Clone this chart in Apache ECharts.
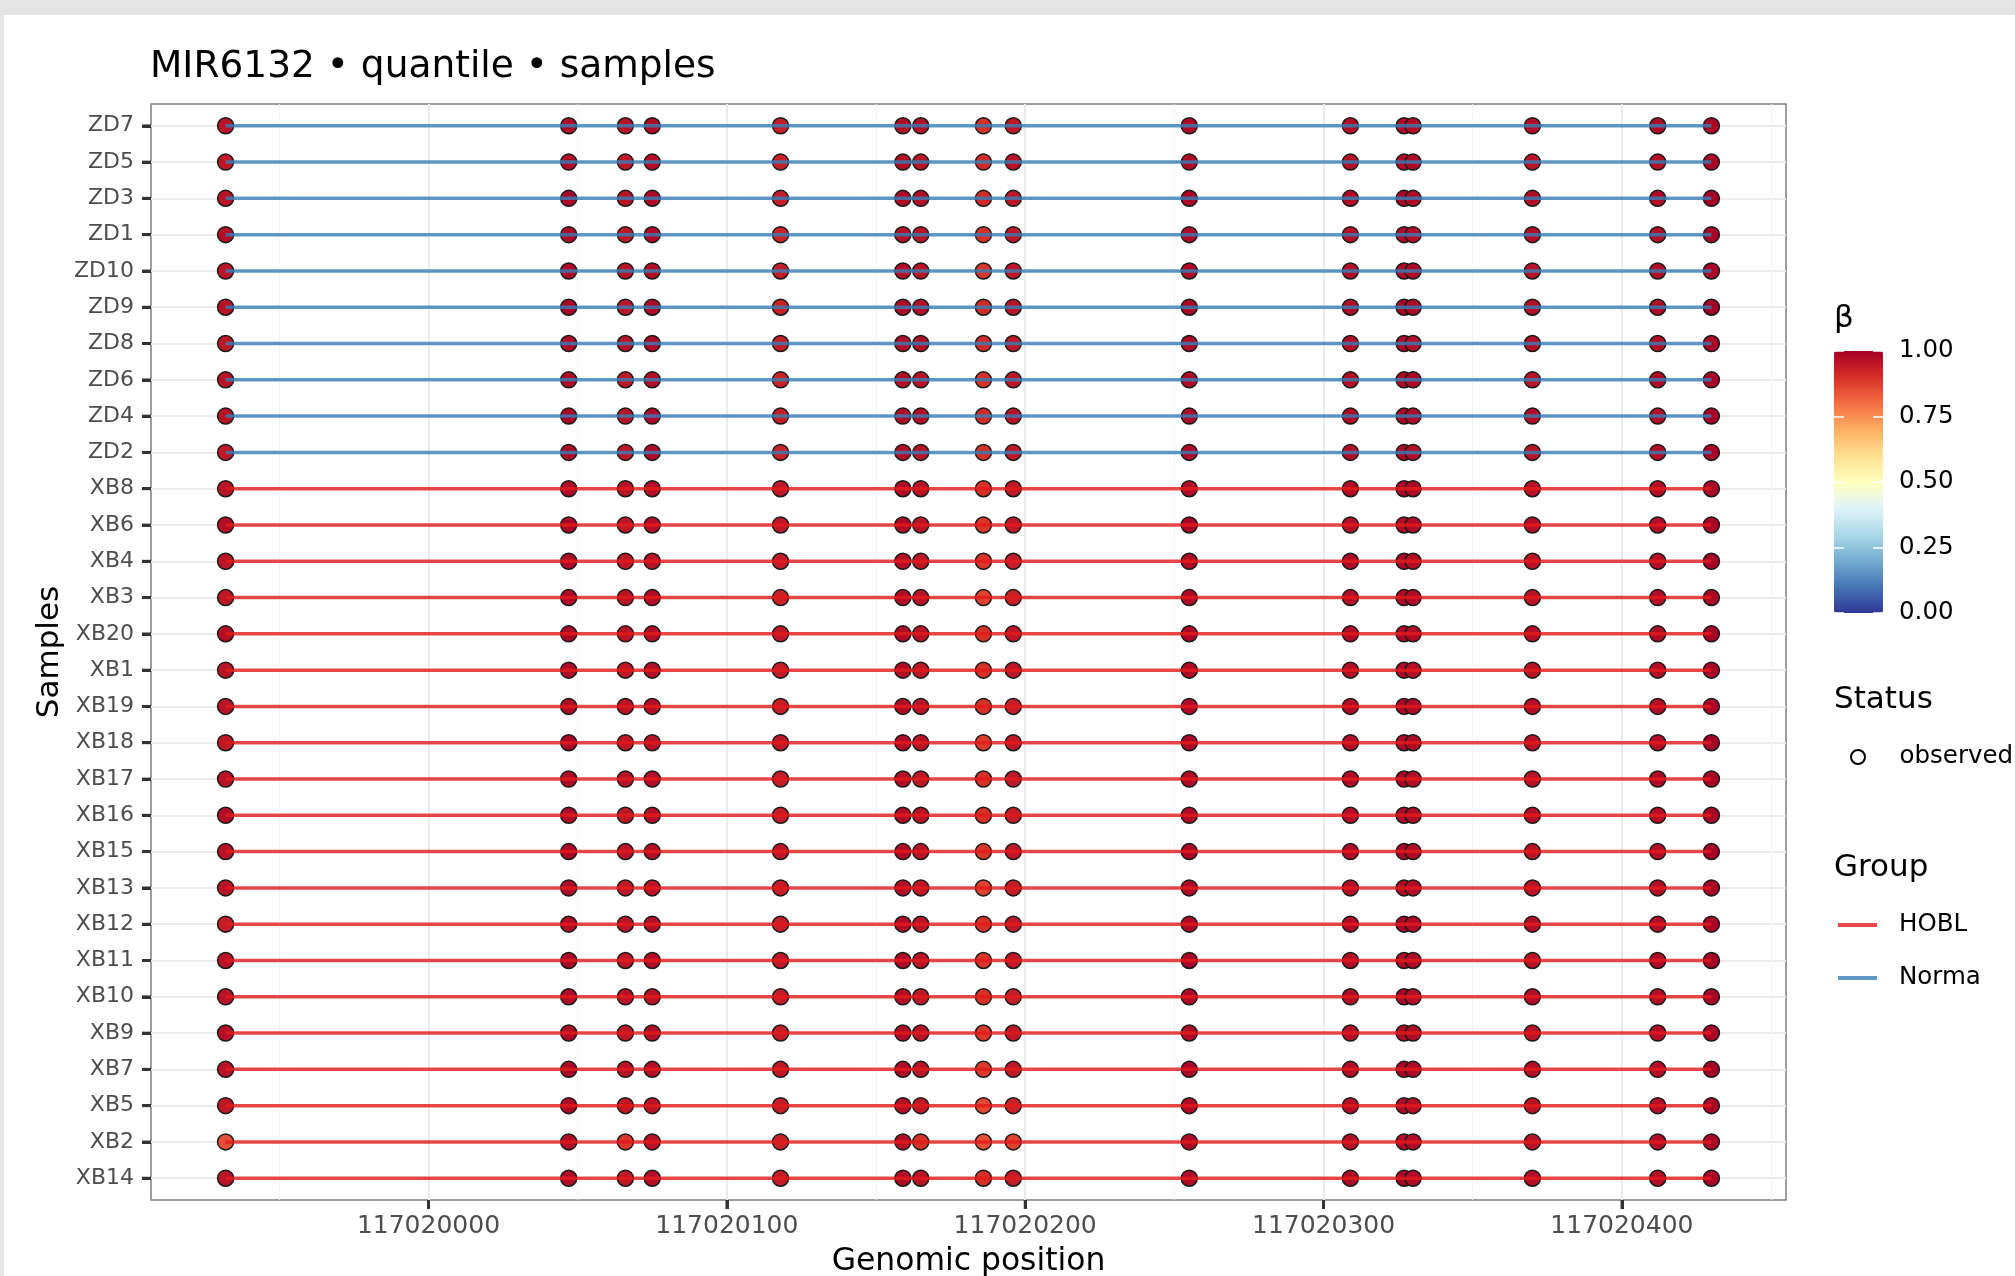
<!DOCTYPE html>
<html>
<head>
<meta charset="utf-8">
<title>MIR6132 • quantile • samples</title>
<script src="https://cdn.jsdelivr.net/npm/echarts@6/dist/echarts.min.js"></script>
<style>
html, body { margin: 0; padding: 0; background: #e5e5e5; overflow: hidden; }
#paper { position: absolute; left: 4px; top: 15px; width: 2011px; height: 1261px; background: #fff; }
#chart { position: absolute; left: 0; top: 0; width: 2015px; height: 1276px; }
</style>
</head>
<body>
<div id="paper"></div>
<div id="chart"></div>
<script>
// 样本（从上到下）
const samples = ['ZD7', 'ZD5', 'ZD3', 'ZD1', 'ZD10', 'ZD9', 'ZD8', 'ZD6', 'ZD4', 'ZD2',
    'XB8', 'XB6', 'XB4', 'XB3', 'XB20', 'XB1', 'XB19', 'XB18', 'XB17', 'XB16',
    'XB15', 'XB13', 'XB12', 'XB11', 'XB10', 'XB9', 'XB7', 'XB5', 'XB2', 'XB14'];

// CpG 位置
const positions = [117019932, 117020047, 117020066, 117020075, 117020118, 117020159,
    117020165, 117020186, 117020196, 117020255, 117020309, 117020327, 117020330,
    117020370, 117020412, 117020430];

// 坐标范围和刻度
const xRange = [117019907, 117020455];
const xTicks = [117020000, 117020100, 117020200, 117020300, 117020400];
const xTickRange = [117020000, 117020400];      // 主刻度 每 100
const xMinorRange = [117019950, 117020450];     // 次网格 每 100
const betaTicks = [0, 0.25, 0.5, 0.75, 1];

// β 值，每行对应 samples 中的一个样本，每列对应 positions
const betaRows = [
    [0.96, 0.98, 0.96, 0.98, 0.94, 0.97, 0.97, 0.90, 0.95, 0.98, 0.97, 0.98, 0.97, 0.97, 0.98, 0.99], // ZD7
    [0.95, 0.98, 0.95, 0.97, 0.93, 0.97, 0.96, 0.91, 0.96, 0.98, 0.97, 0.98, 0.98, 0.96, 0.97, 0.99], // ZD5
    [0.96, 0.99, 0.96, 0.98, 0.94, 0.98, 0.97, 0.91, 0.95, 0.99, 0.98, 0.99, 0.98, 0.97, 0.98, 1.00], // ZD3
    [0.97, 0.98, 0.95, 0.98, 0.93, 0.97, 0.96, 0.90, 0.95, 0.98, 0.97, 0.98, 0.97, 0.97, 0.97, 0.99], // ZD1
    [0.96, 0.98, 0.96, 0.97, 0.94, 0.97, 0.96, 0.89, 0.95, 0.98, 0.97, 0.98, 0.98, 0.96, 0.97, 0.99], // ZD10
    [0.96, 0.99, 0.95, 0.98, 0.93, 0.98, 0.97, 0.91, 0.96, 0.99, 0.98, 0.99, 0.98, 0.97, 0.98, 1.00], // ZD9
    [0.95, 0.98, 0.96, 0.98, 0.94, 0.97, 0.97, 0.91, 0.95, 0.98, 0.97, 0.98, 0.97, 0.97, 0.97, 0.99], // ZD8
    [0.96, 0.98, 0.95, 0.97, 0.93, 0.97, 0.96, 0.90, 0.95, 0.98, 0.97, 0.98, 0.98, 0.96, 0.98, 0.99], // ZD6
    [0.96, 0.99, 0.96, 0.98, 0.94, 0.98, 0.97, 0.91, 0.96, 0.98, 0.98, 0.99, 0.98, 0.97, 0.97, 1.00], // ZD4
    [0.95, 0.98, 0.95, 0.98, 0.93, 0.97, 0.96, 0.90, 0.95, 0.98, 0.97, 0.98, 0.97, 0.96, 0.97, 0.99], // ZD2
    [0.96, 0.98, 0.96, 0.97, 0.95, 0.98, 0.96, 0.90, 0.95, 0.98, 0.98, 0.99, 0.98, 0.96, 0.97, 0.99], // XB8
    [0.97, 0.99, 0.95, 0.97, 0.95, 0.98, 0.96, 0.89, 0.95, 0.99, 0.97, 0.98, 0.98, 0.97, 0.97, 0.99], // XB6
    [0.96, 0.98, 0.95, 0.96, 0.94, 0.97, 0.95, 0.89, 0.94, 0.98, 0.98, 0.99, 0.97, 0.96, 0.97, 1.00], // XB4
    [0.95, 0.98, 0.96, 0.97, 0.93, 0.98, 0.96, 0.87, 0.93, 0.98, 0.97, 0.98, 0.98, 0.96, 0.97, 0.99], // XB3
    [0.97, 0.99, 0.96, 0.97, 0.95, 0.98, 0.96, 0.90, 0.95, 0.99, 0.98, 0.99, 0.98, 0.97, 0.98, 1.00], // XB20
    [0.96, 0.98, 0.95, 0.97, 0.94, 0.97, 0.95, 0.90, 0.95, 0.98, 0.97, 0.98, 0.97, 0.96, 0.97, 0.99], // XB1
    [0.96, 0.98, 0.96, 0.97, 0.94, 0.98, 0.96, 0.90, 0.94, 0.98, 0.98, 0.99, 0.98, 0.97, 0.97, 0.99], // XB19
    [0.95, 0.99, 0.95, 0.96, 0.95, 0.98, 0.96, 0.88, 0.95, 0.99, 0.97, 0.98, 0.98, 0.96, 0.97, 1.00], // XB18
    [0.96, 0.98, 0.96, 0.97, 0.94, 0.97, 0.95, 0.90, 0.95, 0.98, 0.98, 0.99, 0.97, 0.96, 0.98, 0.99], // XB17
    [0.97, 0.98, 0.95, 0.97, 0.94, 0.98, 0.96, 0.90, 0.94, 0.98, 0.97, 0.98, 0.98, 0.97, 0.97, 0.99], // XB16
    [0.96, 0.99, 0.96, 0.97, 0.95, 0.98, 0.96, 0.89, 0.95, 0.99, 0.98, 0.99, 0.98, 0.96, 0.97, 1.00], // XB15
    [0.96, 0.98, 0.95, 0.96, 0.94, 0.97, 0.95, 0.87, 0.94, 0.98, 0.97, 0.98, 0.97, 0.96, 0.97, 0.99], // XB13
    [0.94, 0.98, 0.96, 0.97, 0.94, 0.98, 0.96, 0.90, 0.95, 0.98, 0.98, 0.99, 0.98, 0.97, 0.97, 0.99], // XB12
    [0.96, 0.99, 0.95, 0.97, 0.95, 0.98, 0.96, 0.89, 0.95, 0.99, 0.97, 0.98, 0.98, 0.96, 0.98, 1.00], // XB11
    [0.96, 0.98, 0.96, 0.96, 0.94, 0.97, 0.95, 0.90, 0.94, 0.98, 0.98, 0.99, 0.97, 0.97, 0.97, 0.99], // XB10
    [0.97, 0.98, 0.95, 0.97, 0.94, 0.98, 0.96, 0.89, 0.95, 0.98, 0.97, 0.98, 0.98, 0.96, 0.97, 0.99], // XB9
    [0.96, 0.99, 0.96, 0.97, 0.95, 0.98, 0.96, 0.88, 0.95, 0.99, 0.98, 0.99, 0.98, 0.97, 0.97, 1.00], // XB7
    [0.95, 0.98, 0.95, 0.96, 0.94, 0.97, 0.95, 0.86, 0.93, 0.98, 0.97, 0.98, 0.97, 0.96, 0.97, 0.99], // XB5
    [0.85, 0.98, 0.89, 0.96, 0.93, 0.97, 0.90, 0.85, 0.87, 0.98, 0.97, 0.98, 0.98, 0.96, 0.97, 0.99], // XB2
    [0.96, 0.98, 0.95, 0.97, 0.94, 0.98, 0.96, 0.90, 0.94, 0.98, 0.98, 0.99, 0.98, 0.97, 0.97, 0.99]  // XB14
];

window.onload = function () {
    const font = 'DejaVu Sans';
    // RdYlBu 反向
    const rdylbu = ['#313695', '#4575b4', '#74add1', '#abd9e9', '#e0f3f8', '#ffffbf',
        '#fee090', '#fdae61', '#f46d43', '#d73027', '#a50026'];
    const groupColor = { HOBL: 'rgba(228,26,28,0.8)', Norma: 'rgba(55,126,184,0.8)' };
    const tickColor = '#333';
    const tickLen = 9;
    const tickW = 3;
    const gridLine = { color: '#ebebeb', width: 2 };

    // 面板
    const P = { left: 151, top: 104, width: 1635, height: 1096 };
    const yPad = 0.6;                       // 离散轴两端留白
    const yRange = [-yPad, samples.length - 1 + yPad];
    const band = P.height / (yRange[1] - yRange[0]);
    const pxPerBp = P.width / (xRange[1] - xRange[0]);
    const xAt = v => P.left + (v - xRange[0]) * pxPerBp;

    // 散点
    let points = [];
    samples.forEach((s, i) => {
        positions.forEach((p, j) => {
            points.push([p, i, betaRows[i][j]]);
        });
    });

    let series = [{
        name: 'observed',
        type: 'scatter',
        xAxisIndex: 0,
        yAxisIndex: 0,
        symbolSize: 16,
        itemStyle: { borderColor: '#1a1a1a', borderWidth: 1.5, opacity: 1 },
        z: 2,
        data: points
    }];

    // 每个样本一条线
    samples.forEach((s, i) => {
        let g = s.indexOf('ZD') === 0 ? 'Norma' : 'HOBL';
        series.push({
            name: g,
            type: 'line',
            xAxisIndex: 0,
            yAxisIndex: 0,
            symbol: 'none',
            showSymbol: false,
            color: groupColor[g],
            lineStyle: { color: groupColor[g], width: 3.5 },
            z: 3,
            data: positions.map(p => [p, i])
        });
    });

    // 刻度线（贴在面板外侧）
    series.push({
        name: 'yTicks', type: 'scatter', xAxisIndex: 0, yAxisIndex: 0,
        symbol: 'rect', symbolSize: [tickLen, tickW], symbolOffset: [-tickLen / 2, 0],
        clip: false, silent: true, z: 5,
        itemStyle: { color: tickColor },
        data: samples.map((s, i) => [xRange[0], i])
    });
    series.push({
        name: 'xTicks', type: 'scatter', xAxisIndex: 0, yAxisIndex: 0,
        symbol: 'rect', symbolSize: [tickW, tickLen], symbolOffset: [0, tickLen / 2],
        clip: false, silent: true, z: 5,
        itemStyle: { color: tickColor },
        data: xTicks.map(v => [v, yRange[1]])
    });

    const hiddenAxis = (gi, min, max) => ({
        type: 'value', gridIndex: gi, min: min, max: max, show: false,
        axisLine: { show: false, onZero: false }, splitLine: { show: false }
    });

    let chart = echarts.init(document.getElementById('chart'));

    let option = {
        animation: false,
        textStyle: { fontFamily: font },
        title: [
            {
                text: 'MIR6132 • quantile • samples',
                left: 150, top: 45, padding: 0,
                textStyle: { fontFamily: font, fontSize: 37.5, fontWeight: 'normal', color: '#000', lineHeight: 44 }
            },
            {
                text: 'β', left: 1834, top: 301, padding: 0,
                textStyle: { fontFamily: font, fontSize: 31, fontWeight: 'normal', color: '#000', lineHeight: 36 }
            },
            {
                text: 'Status', left: 1834, top: 682, padding: 0,
                textStyle: { fontFamily: font, fontSize: 31, fontWeight: 'normal', color: '#000', lineHeight: 36 }
            },
            {
                text: 'Group', left: 1834, top: 850, padding: 0,
                textStyle: { fontFamily: font, fontSize: 31, fontWeight: 'normal', color: '#000', lineHeight: 36 }
            }
        ],
        legend: [
            {
                data: [{ name: 'observed', icon: 'circle', itemStyle: { color: '#fff', borderColor: '#000', borderWidth: 2 } }],
                orient: 'vertical', left: 1850, top: 742, padding: 0,
                itemWidth: 39, itemHeight: 14, selectedMode: false,
                textStyle: { fontFamily: font, fontSize: 24.5, color: '#000', lineHeight: 30, padding: [0, 0, 0, 17] }
            },
            {
                data: [
                    { name: 'HOBL', icon: 'rect', itemStyle: { color: groupColor.HOBL } },
                    { name: 'Norma', icon: 'rect', itemStyle: { color: groupColor.Norma } }
                ],
                orient: 'vertical', left: 1838, top: 910, padding: 0,
                itemWidth: 39, itemHeight: 4, itemGap: 23, selectedMode: false,
                textStyle: { fontFamily: font, fontSize: 24.5, color: '#000', lineHeight: 30, padding: [0, 0, 0, 17] }
            }
        ],
        visualMap: {
            type: 'continuous',
            seriesIndex: 0,
            dimension: 2,
            min: 0, max: 1,
            calculable: false,
            inRange: { color: rdylbu },
            left: 1834, top: 351, padding: 0,
            itemWidth: 49, itemHeight: 262,
            z: 2
        },
        grid: [
            {   // 0 主图（数据 + 边框）
                left: P.left, top: P.top, width: P.width, height: P.height,
                outerBoundsMode: 'none', containLabel: false,
                show: true, borderColor: '#7f7f7f', borderWidth: 1.5, backgroundColor: 'transparent'
            },
            {   // 1 色条刻度
                left: 1834, top: 351, width: 49, height: 262,
                outerBoundsMode: 'none', containLabel: false
            },
            {   // 2 样本标签、横向网格线
                left: P.left, width: P.width,
                top: P.top + yPad * band, height: (samples.length - 1) * band,
                outerBoundsMode: 'none', containLabel: false
            },
            {   // 3 位置标签、纵向网格线
                left: xAt(xTickRange[0]), width: xAt(xTickRange[1]) - xAt(xTickRange[0]),
                top: P.top, height: P.height,
                outerBoundsMode: 'none', containLabel: false
            },
            {   // 4 次网格线
                left: xAt(xMinorRange[0]), width: xAt(xMinorRange[1]) - xAt(xMinorRange[0]),
                top: P.top, height: P.height,
                outerBoundsMode: 'none', containLabel: false
            }
        ],
        xAxis: [
            {   // 0
                type: 'value', gridIndex: 0,
                min: xRange[0], max: xRange[1],
                name: 'Genomic position', nameLocation: 'middle', nameGap: 44,
                nameTextStyle: { fontFamily: font, fontSize: 31.4, color: '#000', lineHeight: 36 },
                axisLine: { show: false, onZero: false },
                axisTick: { show: false },
                axisLabel: { show: false },
                splitLine: { show: false }
            },
            hiddenAxis(1, 0, 1),          // 1
            hiddenAxis(2, 0, 1),          // 2
            {   // 3
                type: 'value', gridIndex: 3,
                min: xTickRange[0], max: xTickRange[1], interval: 100,
                axisLine: { show: false, onZero: false },
                axisTick: { show: true, length: tickLen, lineStyle: { color: tickColor, width: tickW } },
                axisLabel: {
                    margin: 11, fontFamily: font, fontSize: 25, color: '#4d4d4d', lineHeight: 30,
                    formatter: v => String(v)
                },
                splitLine: { show: true, lineStyle: gridLine }
            },
            {   // 4
                type: 'value', gridIndex: 4,
                min: xMinorRange[0], max: xMinorRange[1], interval: 100,
                axisLine: { show: false, onZero: false },
                axisTick: { show: false },
                axisLabel: { show: false },
                splitLine: { show: true, lineStyle: { color: '#f2f2f2', width: 1 } }
            }
        ],
        yAxis: [
            {   // 0
                type: 'value', gridIndex: 0,
                min: yRange[0], max: yRange[1], inverse: true,
                name: 'Samples', nameLocation: 'middle', nameGap: 86,
                nameTextStyle: { fontFamily: font, fontSize: 31, color: '#000' },
                axisLine: { show: false, onZero: false },
                axisTick: { show: false },
                axisLabel: { show: false },
                splitLine: { show: false }
            },
            {   // 1 色条右侧刻度和标签
                type: 'value', gridIndex: 1, position: 'right',
                min: 0, max: 1, interval: 0.25, z: 10,
                axisLine: { show: false, onZero: false },
                axisTick: { show: true, inside: true, length: 10, lineStyle: { color: '#fff', width: 1.5 } },
                axisLabel: {
                    margin: 16, fontFamily: font, fontSize: 24.5, color: '#000',
                    formatter: v => v.toFixed(2)
                },
                splitLine: { show: false }
            },
            {   // 2 色条左侧刻度
                type: 'value', gridIndex: 1, position: 'left',
                min: 0, max: 1, interval: 0.25, z: 10,
                axisLine: { show: false, onZero: false },
                axisTick: { show: true, inside: true, length: 10, lineStyle: { color: '#fff', width: 1.5 } },
                axisLabel: { show: false },
                splitLine: { show: false }
            },
            {   // 3 样本
                type: 'value', gridIndex: 2,
                min: 0, max: samples.length - 1, interval: 1, inverse: true,
                axisLine: { show: false, onZero: false },
                axisTick: { show: true, length: tickLen, lineStyle: { color: tickColor, width: tickW } },
                axisLabel: {
                    margin: 17, fontFamily: font, fontSize: 22, color: '#4d4d4d',
                    formatter: v => samples[Math.round(v)]
                },
                splitLine: { show: true, lineStyle: gridLine }
            },
            hiddenAxis(3, 0, 1),          // 4
            hiddenAxis(4, 0, 1)           // 5
        ],
        series: series
    };

    chart.setOption(option);

    window.onresize = function () {
        chart.resize();
    };
};
</script>
</body>
</html>
